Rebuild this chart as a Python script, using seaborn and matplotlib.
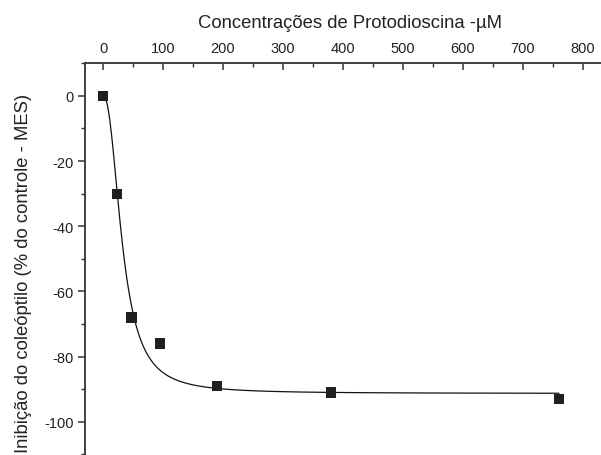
import numpy as np
import pandas as pd
import matplotlib
matplotlib.use("Agg")
import matplotlib.pyplot as plt
import seaborn as sns
from matplotlib.ticker import MultipleLocator

# Data
conc = [0, 23.75, 47.5, 95, 190, 380, 760]
inhib = [0, -30, -68, -76, -89, -91, -93]

# Logistic fit parameters (Origin-style)
fit_A1 = 0.0
fit_A2 = -91.3
fit_x0 = 32.5
fit_p = 2.3

xlabel = "Concentrações de Protodioscina -µM"
ylabel = "Inibição do coleóptilo (% do controle - MES)"
xticks = [0, 100, 200, 300, 400, 500, 600, 700, 800]
yticks = [0, -20, -40, -60, -80, -100]

sns.set_style("ticks")
plt.rcParams["font.family"] = ["Liberation Sans", "DejaVu Sans"]
plt.rcParams["axes.unicode_minus"] = False

fig = plt.figure(figsize=(6.01, 4.56), dpi=100)
ax = fig.add_axes([85 / 601, 1 - 488 / 456, (619 - 85) / 601, (488 - 64.3) / 456])

xf = np.linspace(0, 760, 800)
r = (xf / fit_x0) ** fit_p
yf = fit_A2 + (fit_A1 - fit_A2) / (1 + r)
fit_df = pd.DataFrame({"x": xf, "y": yf})
pts = pd.DataFrame({"x": conc, "y": inhib})

sns.lineplot(data=fit_df, x="x", y="y", ax=ax, color="#111111", linewidth=0.9, zorder=2)
sns.scatterplot(data=pts, x="x", y="y", ax=ax, marker="s", s=55, color="#231f20",
                edgecolor="none", zorder=3)

ax.set_xlim(-30, 860)
ax.set_ylim(-120, 10)

ax.xaxis.set_label_position("top")
ax.xaxis.tick_top()
ax.set_xticks(xticks)
ax.set_yticks(yticks)
ax.xaxis.set_minor_locator(MultipleLocator(50))
ax.yaxis.set_minor_locator(MultipleLocator(10))

spine_c = "#333333"
for s in ["top", "left"]:
    ax.spines[s].set_color(spine_c)
    ax.spines[s].set_linewidth(1.3)
for s in ["bottom", "right"]:
    ax.spines[s].set_visible(False)

ax.tick_params(axis="x", which="major", direction="in", length=5, width=1.1,
               color=spine_c, labelsize=10.5, labelcolor="#222222", pad=6,
               top=True, bottom=False, labeltop=True, labelbottom=False)
ax.tick_params(axis="x", which="minor", direction="in", length=3, width=1.0,
               color=spine_c, top=True, bottom=False)
ax.tick_params(axis="y", which="major", direction="out", length=5, width=1.1,
               color=spine_c, labelsize=10.5, labelcolor="#222222", pad=3)
ax.tick_params(axis="y", which="minor", direction="out", length=3, width=1.0,
               color=spine_c)

ax.set_xlabel(xlabel, fontsize=13.3, color="#222222")
ax.set_ylabel(ylabel, fontsize=13.3, color="#222222")
ax.xaxis.set_label_coords(0.497, 1.0868)
ax.yaxis.set_label_coords(-0.0993, 0.507)

fig.savefig("out.png", dpi=100)
